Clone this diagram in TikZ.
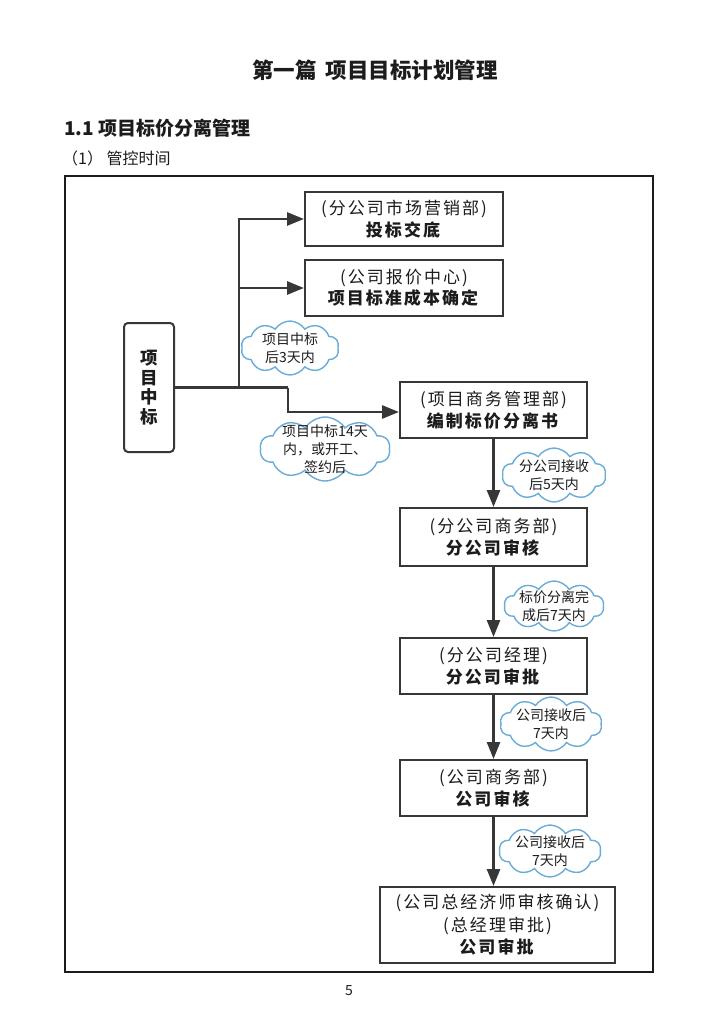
\documentclass[tikz,border=0pt]{standalone}
\usepackage{fontspec}
\setmainfont{Noto Sans CJK SC}
\newfontfamily\boxfont{Noto Sans CJK SC}[LetterSpace=12]
\usetikzlibrary{shapes.symbols,arrows.meta}
\definecolor{ink}{RGB}{28,28,28}
\definecolor{lin}{RGB}{55,55,55}
\definecolor{cl}{RGB}{105,172,215}
\begin{document}
\begin{tikzpicture}[x=1pt,y=-1pt,
  box/.style={draw=lin, line width=2pt, fill=white, minimum width=187pt, minimum height=56pt,
    align=center, inner sep=0pt, text=ink, font=\boxfont\fontsize{17}{21.5}\selectfont},
  cloudbg/.style={cloud, cloud puffs=10, cloud puff arc=115, cloud ignores aspect, draw=cl, line width=1.4pt,
    fill=white, inner sep=0pt},
  cloudtxt/.style={align=center, inner sep=0pt, text=ink, font=\fontsize{14}{18}\selectfont},
  arr/.style={draw=lin, line width=2.7pt, -{Triangle[length=17pt,width=13pt]}},
  lnk/.style={draw=lin, line width=2.7pt}
]
\useasboundingbox (0,0) rectangle (706,1024);
% headings
\node[text=ink, font=\fontsize{21.5}{24}\selectfont\bfseries] (title) at (375,70) {第一篇\hspace{0.4em}项目目标计划管理};
\node[anchor=west, inner sep=0pt, text=ink, font=\fontsize{19}{22}\selectfont\bfseries] (sec) at (64,128) {1.1 项目标价分离管理};
\node[anchor=west, inner sep=0pt, text=ink, font=\fontsize{16}{18}\selectfont] (sub) at (62,158) {（1） 管控时间};
\node[text=ink, font=\fontsize{14}{16}\selectfont] (pg) at (349,991) {5};
% frame
\draw[line width=1.5pt, draw=ink] (65,176) rectangle (653,972);
% boxes
\node[box, minimum width=198pt, minimum height=54pt] (b1) at (404,219) {(分公司市场营销部)\\\textbf{投标交底}};
\node[box, minimum width=198pt] (b2) at (404,288) {(公司报价中心)\\\textbf{项目标准成本确定}};
\node[box, minimum width=50pt, minimum height=129pt, rounded corners=4pt, font=\fontsize{17.5}{19.5}\selectfont\bfseries] (win) at (149,387.5) {项\\目\\中\\标};
\node[box] (b3) at (493.5,410) {(项目商务管理部)\\\textbf{编制标价分离书}};
\node[box, minimum height=58pt] (b4) at (493.5,537) {(分公司商务部)\\\textbf{分公司审核}};
\node[box] (b5) at (493.5,666) {(分公司经理)\\\textbf{分公司审批}};
\node[box] (b6) at (493.5,788) {(公司商务部)\\\textbf{公司审核}};
\node[box, minimum width=235pt, minimum height=76pt, font=\boxfont\fontsize{17}{22.5}\selectfont] (b7) at (497.5,925) {(公司总经济师审核确认)\\(总经理审批)\\\textbf{公司审批}};
% connectors
\coordinate (j1) at (239,387.5);
\coordinate (j2) at (288,387.5);
\draw[lnk] (win.east) -- (j2);
\draw[arr] (j1) |- (b1.west);
\draw[arr] (j1) |- (b2.west);
\draw[arr] (j2) -- (288,412) -- (b3.west |- 0,412);
\draw[arr] (b3.south) -- (b4.north);
\draw[arr] (b4.south) -- (b5.north);
\draw[arr] (b5.south) -- (b6.north);
\draw[arr] (b6.south) -- (b6.south |- b7.north);
% clouds
\node[cloudbg, minimum width=98pt, minimum height=54pt] (c1) at (290,348) {};
\node[cloudtxt] (t1) at (c1) {项目中标\\后3天内};
\node[cloudbg, minimum width=130pt, minimum height=64pt] (c2) at (325,449) {};
\node[cloudtxt] (t2) at (c2) {项目中标14天\\内，或开工、\\签约后};
\node[cloudbg, minimum width=104pt, minimum height=54pt] (c3) at (554,475) {};
\node[cloudtxt] (t3) at (c3) {分公司接收\\后5天内};
\node[cloudbg, minimum width=100pt, minimum height=50pt] (c4) at (554,606) {};
\node[cloudtxt] (t4) at (c4) {标价分离完\\成后7天内};
\node[cloudbg, minimum width=102pt, minimum height=54pt] (c5) at (551,724) {};
\node[cloudtxt] (t5) at (c5) {公司接收后\\7天内};
\node[cloudbg, minimum width=102pt, minimum height=52pt] (c6) at (550,851) {};
\node[cloudtxt] (t6) at (c6) {公司接收后\\7天内};
\end{tikzpicture}
\end{document}
